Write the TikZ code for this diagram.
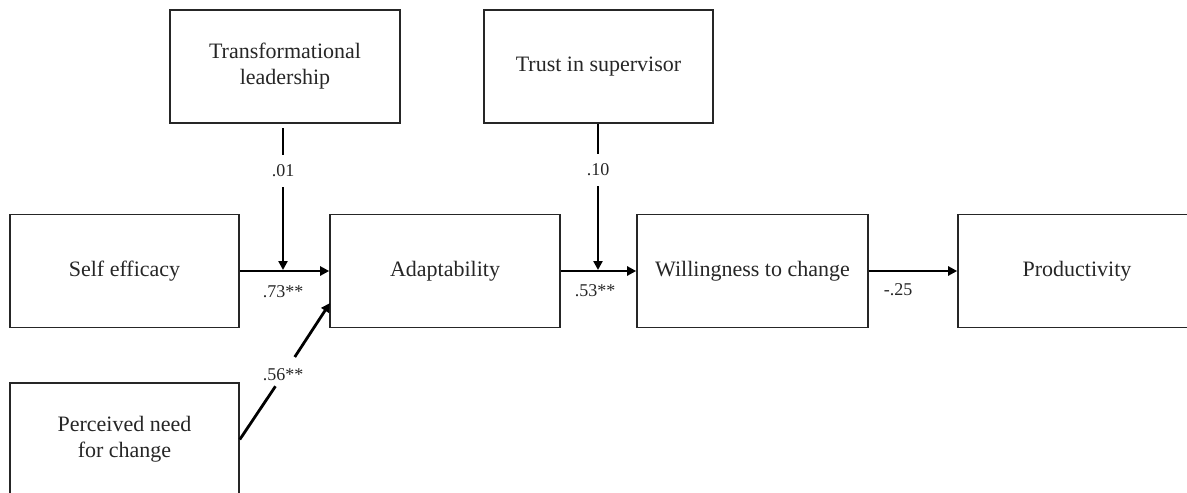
\documentclass[tikz,border=0pt]{standalone}
\usepackage{fontspec}
\setmainfont{Liberation Serif}
\usetikzlibrary{arrows.meta}
\begin{document}
\begin{tikzpicture}[x=1pt,y=-1pt,
  box/.style={draw=black!85,line width=1.6pt,minimum width=229pt,minimum height=113pt,
    inner sep=0pt,align=center,font=\fontsize{22}{26}\selectfont,text=black!85},
  lab/.style={inner sep=0pt,font=\fontsize{18}{20}\selectfont,text=black!85},
  conn/.style={line width=2.8pt,black},
  arr/.style={conn,-{Triangle[length=9pt,width=9pt]}}]
\useasboundingbox (0,0) rectangle (1187,493);
\clip (0,0) rectangle (1187,493);
\node[box,minimum width=230pt] (tl) at (285,66.5) {Transformational\\leadership};
\node[box] (tr) at (598.5,66.5) {Trust in supervisor};
\node[box] (se) at (124.5,271) {Self efficacy};
\node[box,minimum width=230pt] (ad) at (445,271) {Adaptability};
\node[box,minimum width=231pt] (wi) at (752.5,271) {Willingness to change};
\node[box,minimum width=238pt] (pr) at (1077,271) {Productivity};
\node[box] (pn) at (124.5,439.5) {Perceived need\\for change};
% labels
\node[lab] (l01) at (283,171) {.01};
\node[lab] (l10) at (598,170) {.10};
\node[lab] (l73) at (283,292) {.73**};
\node[lab] (l53) at (595,291) {.53**};
\node[lab] (l25) at (898,290) {-.25};
\node[lab] (l56) at (283,375) {.56**};
\coordinate (j1) at (283,270);
\coordinate (j2) at (598,270);
\coordinate (a1) at (330,303);
\coordinate (t1) at (283,123);
% connectors
\draw[conn,shorten <=5pt,shorten >=10pt] (t1) -- (l01.north);
\draw[arr,shorten <=10pt] (l01.south) -- (j1);
\draw[conn,shorten >=10pt] (tr.south -| l10) -- (l10.north);
\draw[arr,shorten <=10pt] (l10.south) -- (j2);
\draw[arr] (se) -- (ad);
\draw[arr] (ad) -- (wi);
\draw[arr] (wi) -- (pr);
\draw[conn,shorten >=6pt] (pn.east) -- (l56);
\draw[arr,shorten <=14pt] (l56) -- (a1);
\end{tikzpicture}
\end{document}
